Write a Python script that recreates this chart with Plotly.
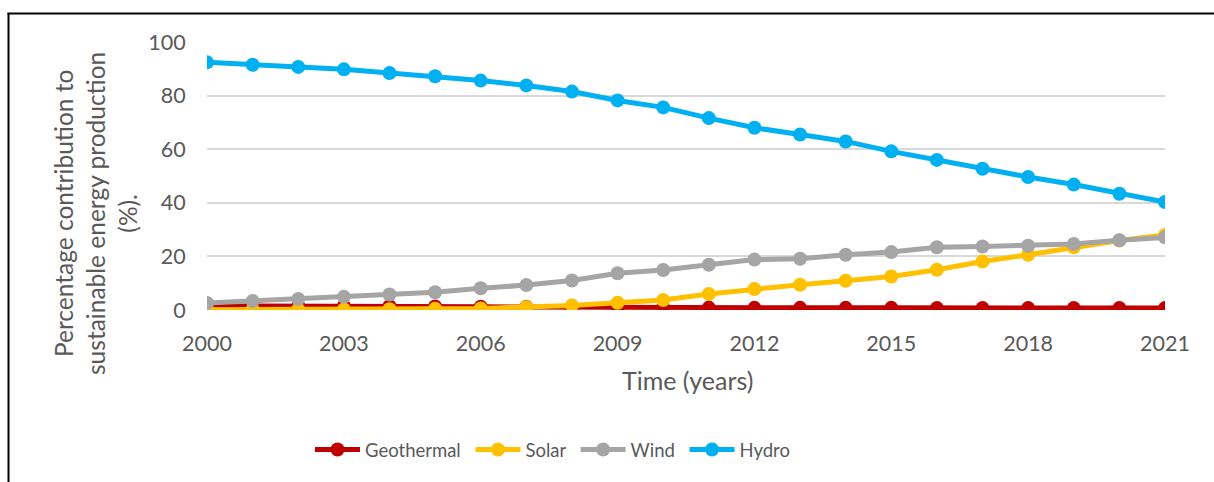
import plotly.graph_objects as go

# Share of sustainable energy production by source, 2000-2021 (%)
years = list(range(2000, 2022))
geothermal = [1.6, 1.6, 1.5, 1.5, 1.4, 1.3, 1.2, 1.1, 1.0, 0.9, 0.9,
              0.9, 0.8, 0.8, 0.8, 0.8, 0.7, 0.7, 0.7, 0.7, 0.7, 0.7]
solar = [0.1, 0.1, 0.2, 0.2, 0.3, 0.5, 0.6, 1.0, 1.7, 2.7, 3.7,
         6.0, 7.8, 9.4, 10.9, 12.5, 15.0, 18.1, 20.6, 23.4, 25.9, 28.0]
wind = [2.6, 3.4, 4.1, 4.9, 5.8, 6.6, 8.1, 9.3, 11.0, 13.7, 14.9,
        16.9, 18.8, 19.1, 20.6, 21.6, 23.4, 23.7, 24.0, 24.6, 26.0, 27.1]
hydro = [92.4, 91.5, 90.7, 89.8, 88.4, 87.2, 85.6, 83.8, 81.5, 78.2, 75.6,
         71.6, 68.0, 65.5, 62.9, 59.2, 56.0, 52.7, 49.6, 46.8, 43.4, 40.3]

series = [
    ("Geothermal", geothermal, "#C00000"),
    ("Solar", solar, "#FFC000"),
    ("Wind", wind, "#A5A5A5"),
    ("Hydro", hydro, "#00B0F0"),
]

x_ticks = [2000, 2003, 2006, 2009, 2012, 2015, 2018, 2021]
y_ticks = [0, 20, 40, 60, 80, 100]

FONT = "Lato"
TEXT = "#595959"
PAD = "\u00a0"  # extra room between legend entries

W, H = 1214, 482
ML, MR, MT, MB = 207, 49, 42, 172
PW, PH = W - ML - MR, H - MT - MB


def px_x(p):
    return (p - ML) / PW


def px_y(p):
    return (H - MB - p) / PH


fig = go.Figure()
for name, vals, color in series:
    fig.add_trace(go.Scatter(
        x=years, y=vals, name=name + PAD, mode="lines+markers",
        line=dict(color=color, width=5),
        marker=dict(color=color, size=14),
    ))

fig.update_layout(
    width=W, height=H,
    margin=dict(l=ML, r=MR, t=MT, b=MB),
    paper_bgcolor="white", plot_bgcolor="white",
    font=dict(family=FONT, color=TEXT, size=21),
    showlegend=True,
    legend=dict(
        orientation="h", x=px_x(310), xanchor="left",
        y=px_y(450), yanchor="middle",
        font=dict(size=18.5, color=TEXT), itemwidth=45,
        traceorder="normal", bgcolor="rgba(0,0,0,0)",
    ),
    xaxis=dict(
        range=[2000, 2021], tickvals=x_ticks,
        showgrid=False, zeroline=False, showline=False,
        ticks="outside", ticklen=14, tickcolor="rgba(0,0,0,0)",
        tickfont=dict(size=21.5, color=TEXT),
    ),
    yaxis=dict(
        range=[0, 100], tickvals=y_ticks,
        showgrid=True, gridcolor="#D9D9D9", gridwidth=1.5,
        zeroline=False, showline=False,
        ticks="outside", ticklen=16, tickcolor="rgba(0,0,0,0)",
        tickfont=dict(size=21.5, color=TEXT),
    ),
    annotations=[
        dict(
            text="Percentage contribution to<br>sustainable energy production<br>(%).",
            textangle=-90, x=px_x(95), y=px_y(214), xref="paper", yref="paper",
            xanchor="center", yanchor="middle", showarrow=False,
            font=dict(size=24.5, color=TEXT),
        ),
        dict(
            text="Time (years)", x=px_x(687), y=px_y(380),
            xref="paper", yref="paper", xanchor="center", yanchor="middle",
            showarrow=False, font=dict(size=25, color=TEXT),
        ),
    ],
    shapes=[
        # chart frame: left and top edges
        dict(type="line", xref="paper", yref="paper",
             x0=px_x(8.5), x1=px_x(8.5), y0=px_y(13), y1=px_y(500),
             line=dict(color="black", width=2)),
        dict(type="line", xref="paper", yref="paper",
             x0=px_x(7.5), x1=px_x(1230), y0=px_y(13.5), y1=px_y(13.5),
             line=dict(color="black", width=2)),
    ],
)

fig.write_html("out.html")
